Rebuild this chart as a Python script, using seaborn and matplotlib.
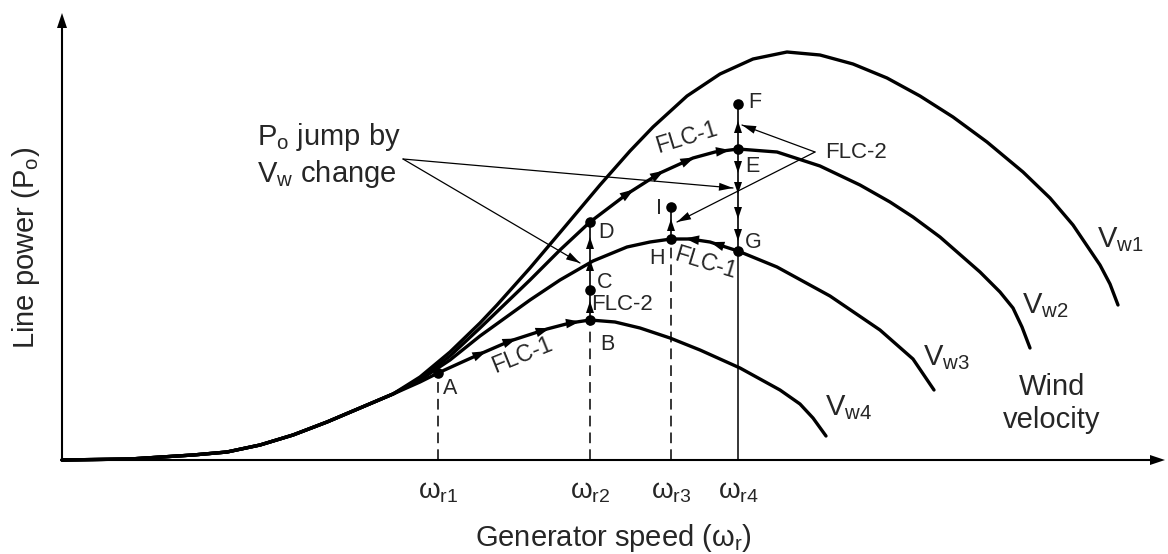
import numpy as np
import pandas as pd
import matplotlib
matplotlib.use("Agg")
import matplotlib.pyplot as plt
import seaborn as sns
from matplotlib.patches import Polygon

# ---------------- data (chart units: speed to the right, power upward) -------------
common_x = [0, 68, 131, 165, 198, 231, 265, 298, 331]
common_y = [0, 1, 5, 8, 15, 25, 38, 52, 66]

vw4_x = [358, 376, 398, 418, 448, 485, 508, 528, 553, 578, 608, 638, 678, 718, 738, 751, 764]
vw4_y = [78, 87, 97, 106, 119, 131, 137, 140, 138, 132, 122, 110, 92, 70, 56, 42, 24]

vw3_x = [358, 388, 418, 468, 498, 531, 565, 588, 609, 628, 648, 676, 715, 768, 818, 851, 872]
vw3_y = [80, 100, 124, 160, 180, 199, 213, 218, 221, 221, 218, 209, 193, 164, 130, 101, 70]

vw2_x = [358, 388, 418, 468, 498, 528, 565, 598, 631, 653, 676, 715, 758, 798, 828, 851, 878,
         918, 938, 951, 960, 968]
vw2_y = [81, 104, 132, 180, 210, 238, 266, 287, 302, 308, 311, 308, 294, 275, 258, 243, 223,
         188, 168, 152, 133, 112]

vw1_x = [358, 388, 418, 435, 468, 501, 538, 568, 591, 625, 658, 691, 725, 758, 791, 825, 858,
         891, 925, 961, 988, 1011, 1038, 1048, 1056]
vw1_y = [83, 108, 137, 155, 192, 231, 275, 309, 333, 364, 386, 401, 408, 405, 396, 382, 364,
         343, 318, 288, 262, 235, 195, 176, 155]

curve_names = ["Vw1", "Vw2", "Vw3", "Vw4"]
curve_x = [vw1_x, vw2_x, vw3_x, vw4_x]
curve_y = [vw1_y, vw2_y, vw3_y, vw4_y]

# operating points
pt_names = ["A", "B", "C", "D", "E", "F", "G", "H", "I"]
pt_x = [376, 528, 528, 528, 676, 676, 676, 609, 609]
pt_y = [87, 140, 170, 238, 311, 356, 209, 221, 253]
lab_x = [388, 545, 543, 544, 690, 693, 691, 595, 597]
lab_y = [72, 115, 177, 228, 293, 357, 218, 202, 251]

# speed ticks
w_pos = [376, 528, 609, 676]
w_labels = ["ω$_{\\rm r1}$", "ω$_{\\rm r2}$", "ω$_{\\rm r3}$", "ω$_{\\rm r4}$"]

# FLC-1 arrow positions along curves (speed values) and travel direction
flc1_vw4 = [418, 448, 481, 511]
flc1_vw2 = [566, 596, 626, 661]
flc1_vw3 = [655, 630]

# FLC-2 vertical arrow positions (power values)
up_r2 = [153, 195, 217]
up_r4 = [333]
down_r4 = [293, 272, 247, 225]
up_r3 = [235]

# ---------------- figure -------------------------------------------------------------
sns.set_theme(style="white")
plt.rcParams["font.family"] = ["Liberation Sans", "DejaVu Sans"]
plt.rcParams["mathtext.fontset"] = "custom"
plt.rcParams["mathtext.rm"] = "Liberation Sans"
plt.rcParams["mathtext.it"] = "Liberation Sans:italic"
plt.rcParams["mathtext.bf"] = "Liberation Sans:bold"

fig = plt.figure(figsize=(11.68, 5.54), dpi=100)
ax = fig.add_axes([0, 0, 1, 1])
ax.set_xlim(-62, 1106)
ax.set_ylim(-94, 460)
ax.set_axis_off()

rows = []
for name, cx, cy in zip(curve_names, curve_x, curve_y):
    for x, y in zip(common_x + cx, common_y + cy):
        rows.append((name, x, y))
df = pd.DataFrame(rows, columns=["curve", "speed", "power"])
sns.lineplot(data=df, x="speed", y="power", hue="curve", palette=["black"] * 4,
             estimator=None, sort=False, linewidth=2.4, legend=False, ax=ax)
for ln in ax.get_lines():
    ln.set_solid_joinstyle("round")
    ln.set_solid_capstyle("round")


def head(x, y, dx, dy, L=13.0, W=4.5, at_tip=False):
    n = np.hypot(dx, dy)
    ux, uy = dx / n, dy / n
    if at_tip:
        tx, ty = x, y
    else:
        tx, ty = x + ux * L / 2, y + uy * L / 2
    bx, by = tx - ux * L, ty - uy * L
    nx, ny = -uy, ux
    ax.add_patch(Polygon([(tx, ty), (bx + nx * W, by + ny * W), (bx - nx * W, by - ny * W)],
                         closed=True, facecolor="black", edgecolor="none", zorder=5))


def curve_heads(xs, cx, cy, sign):
    fx = common_x + cx
    fy = common_y + cy
    for x in xs:
        y = np.interp(x, fx, fy)
        d = np.interp(x + 3, fx, fy) - np.interp(x - 3, fx, fy)
        head(x, y, sign * 6, sign * d, L=14, W=4.8)


# axes with arrows
ax.plot([0, 1096], [0, 0], color="black", lw=1.5)
ax.plot([0, 0], [0, 440], color="black", lw=1.5)
head(1103, 0, 1, 0, L=15, W=5, at_tip=True)
head(0, 447, 0, 1, L=15, W=5, at_tip=True)

# dashed / solid verticals to the speed axis
dash = (0, (7, 4))
ax.plot([pt_x[0], pt_x[0]], [0, pt_y[0] - 8], color="black", lw=1.1, ls=dash)
ax.plot([pt_x[1], pt_x[1]], [0, pt_y[1]], color="black", lw=1.1, ls=dash)
ax.plot([pt_x[7], pt_x[7]], [0, pt_y[7]], color="black", lw=1.1, ls=dash)
ax.plot([pt_x[6], pt_x[6]], [0, pt_y[6]], color="black", lw=1.1)

# FLC-2 vertical moves
ax.plot([pt_x[1], pt_x[3]], [pt_y[1], pt_y[3]], color="black", lw=1.2)
ax.plot([pt_x[6], pt_x[5]], [pt_y[6], pt_y[5]], color="black", lw=1.2)
ax.plot([pt_x[7], pt_x[8]], [pt_y[7], pt_y[8]], color="black", lw=1.2)
for y in up_r2:
    head(pt_x[1], y, 0, 1, L=12, W=4)
for y in up_r4:
    head(pt_x[4], y, 0, 1, L=12, W=4)
for y in down_r4:
    head(pt_x[4], y, 0, -1, L=12, W=4)
for y in up_r3:
    head(pt_x[7], y, 0, 1, L=12, W=4)

# FLC-1 arrows along curves
curve_heads(flc1_vw4, vw4_x, vw4_y, 1)
curve_heads(flc1_vw2, vw2_x, vw2_y, 1)
curve_heads(flc1_vw3, vw3_x, vw3_y, -1)

# operating points
ax.scatter(pt_x, pt_y, s=58, color="black", zorder=6, linewidths=0)
for n, x, y in zip(pt_names, lab_x, lab_y):
    ax.text(x, y, n, fontsize=15.5, ha="center", va="center")

# speed tick labels
for x, t in zip(w_pos, w_labels):
    ax.text(x, -32, t, fontsize=20, ha="center", va="center")

# annotation: Po jump by Vw change
ax.text(195, 315, "P$_{\\rm o}$ jump by", fontsize=21, ha="left", va="baseline")
ax.text(195, 278, "V$_{\\rm w}$ change", fontsize=21, ha="left", va="baseline")
src = (341, 301)
for tip in [(671, 272), (518, 197)]:
    ax.plot([src[0], tip[0]], [src[1], tip[1]], color="black", lw=0.9)
    head(tip[0], tip[1], tip[0] - src[0], tip[1] - src[1], L=14, W=4, at_tip=True)

# annotation: FLC-2
ax.text(794, 308, "FLC-2", fontsize=16, ha="center", va="center")
src2 = (753, 308)
for tip in [(680, 335), (615, 238)]:
    ax.plot([src2[0], tip[0]], [src2[1], tip[1]], color="black", lw=0.9)
    head(tip[0], tip[1], tip[0] - src2[0], tip[1] - src2[1], L=14, W=4, at_tip=True)
ax.text(560, 156, "FLC-2", fontsize=16, ha="center", va="center")

# FLC-1 labels
ax.text(460, 105, "FLC-1", fontsize=16.5, ha="center", va="center", rotation=22)
ax.text(625, 322, "FLC-1", fontsize=16.5, ha="center", va="center", rotation=17)
ax.text(643, 197, "FLC-1", fontsize=16.5, ha="center", va="center", rotation=-17)

# wind velocity labels
ax.text(1035, 213, "V$_{\\rm w1}$", fontsize=21, ha="left", va="baseline")
ax.text(960, 147, "V$_{\\rm w2}$", fontsize=21, ha="left", va="baseline")
ax.text(861, 95, "V$_{\\rm w3}$", fontsize=21, ha="left", va="baseline")
ax.text(763, 45, "V$_{\\rm w4}$", fontsize=21, ha="left", va="baseline")
ax.text(990, 65, "Wind", fontsize=21, ha="center", va="baseline")
ax.text(990, 32, "velocity", fontsize=21, ha="center", va="baseline")

# axis titles
ax.text(-36, 212, "Line power (P$_{\\rm o}$)", fontsize=21, rotation=90, ha="center", va="center")
ax.text(551, -86, "Generator speed (ω$_{\\rm r}$)", fontsize=21, ha="center", va="baseline")

fig.savefig("out.png", dpi=100, facecolor="white")
